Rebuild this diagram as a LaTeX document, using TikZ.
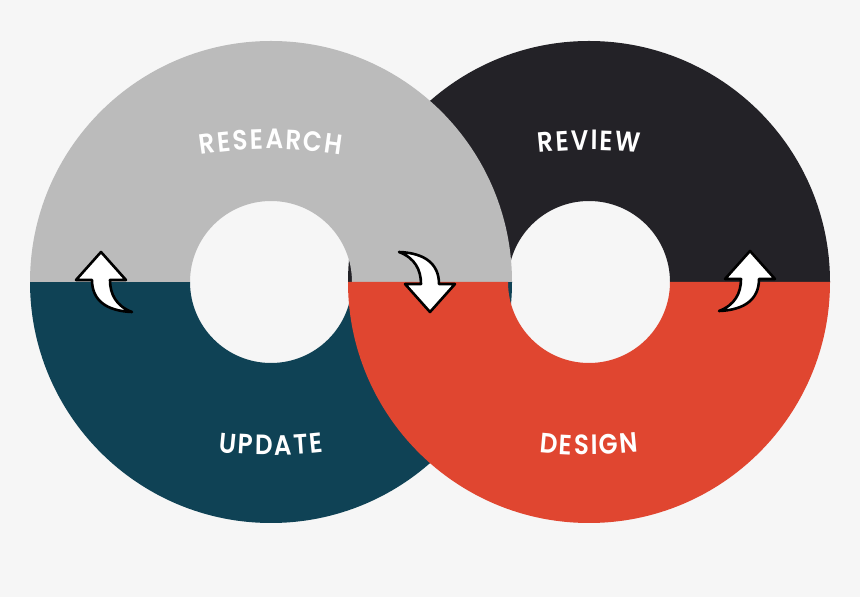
\documentclass[tikz,border=0pt]{standalone}
\usepackage{fontspec}
\newfontfamily\stagefont{Poppins}[BoldFont={Poppins SemiBold}, FakeStretch=0.88]
\usetikzlibrary{decorations.text}
\definecolor{bg}{HTML}{F6F6F6}
\definecolor{research}{HTML}{BBBBBB}
\definecolor{review}{HTML}{232227}
\definecolor{update}{HTML}{0F4255}
\definecolor{design}{HTML}{E04630}
\tikzset{
	turn/.style={fill=white, draw=black, line width=2.6pt, line join=round},
	stage/.style={decorate, decoration={text along path, text align=center,
		text={|\fontsize{28}{30}\selectfont\stagefont\bfseries\color{white}|#1}}}
}
\newcommand\halfring[3]{\fill[#3] (#1) ++(#2:241) arc[start angle=#2, delta angle=180, radius=241]
	-- ++(#2:160) arc[start angle=#2+180, delta angle=-180, radius=81] -- cycle;}
\newcommand\turnarrow[2]{\draw[turn, shift={(#1)}, #2] (-9,2) -- (-25,2) -- (0,30) -- (25,2) -- (9,2)
	.. controls (9,-12) and (15,-24) .. (31,-30) .. controls (5,-29) and (-9,-18) .. cycle;}
\begin{document}
\begin{tikzpicture}[x=1pt, y=1pt]
		\fill[bg] (0,0) rectangle (860,597);
		\useasboundingbox (0,0) rectangle (860,597);
		\coordinate (left) at (271,315);
		\coordinate (right) at (589,315);
		\halfring{right}{0}{review}
		\halfring{left}{180}{update}
		\halfring{left}{0}{research}
		\halfring{right}{180}{design}
		\path[stage={R{\kern2pt}E{\kern2pt}S{\kern2pt}E{\kern2pt}A{\kern2pt}R{\kern2pt}C{\kern2pt}H}, shift={(271,-2)}]
			(105:450) arc[start angle=105, end angle=75, radius=450];
		\path[stage={R{\kern2pt}E{\kern2pt}V{\kern2pt}I{\kern2pt}E{\kern2pt}W}, shift={(589,-3)}]
			(105:450) arc[start angle=105, end angle=75, radius=450];
		\path[stage={U{\kern2pt}P{\kern2pt}D{\kern2pt}A{\kern2pt}T{\kern2pt}E}, shift={(271,592)}]
			(255:450) arc[start angle=255, end angle=285, radius=450];
		\path[stage={D{\kern2pt}E{\kern2pt}S{\kern2pt}I{\kern2pt}G{\kern2pt}N}, shift={(589,592)}]
			(255:450) arc[start angle=255, end angle=285, radius=450];
		\turnarrow{101,315}{}
		\turnarrow{430,315}{rotate=180}
		\turnarrow{750,316}{xscale=-1}
	\end{tikzpicture}
\end{document}
